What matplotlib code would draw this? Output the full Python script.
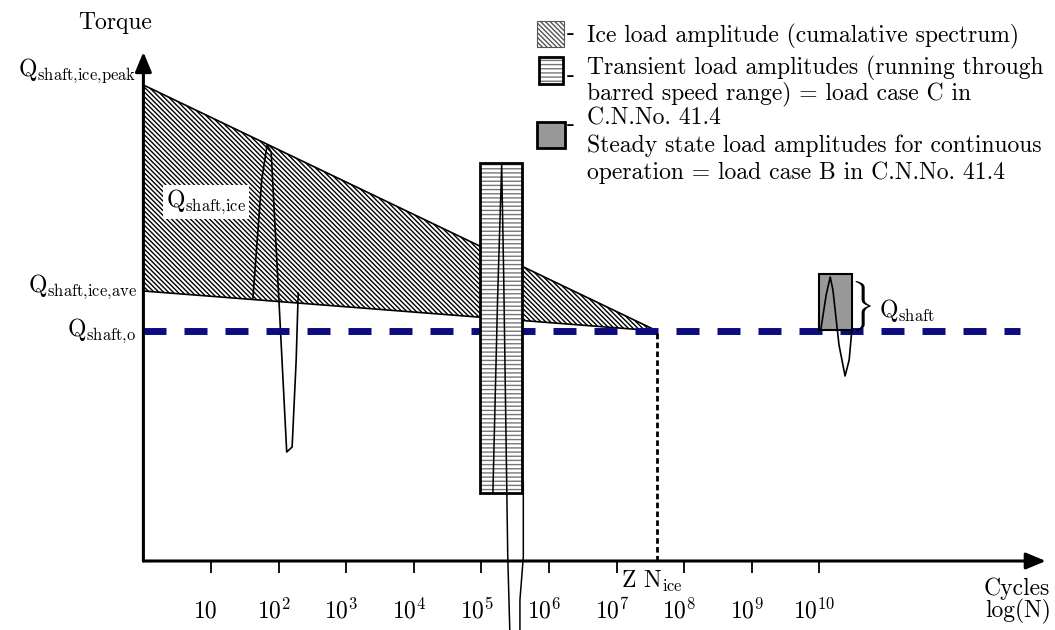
import numpy as np
import matplotlib.pyplot as plt
from matplotlib.patches import Rectangle, Polygon

plt.rcParams['font.family'] = ['cmr10', 'DejaVu Serif']
plt.rcParams['mathtext.fontset'] = 'cm'
plt.rcParams['axes.unicode_minus'] = False
plt.rcParams['hatch.linewidth'] = 1.0

# x = log10(N) load cycles, y = shaft torque (arbitrary units)
decades = np.arange(1, 11)
tick_labels = ['10'] + ['10$^{%d}$' % k for k in decades[1:]]

q_shaft_o = 2.30
q_ice_ave = 2.70
q_ice_peak = 4.76
log_n_ice = 7.60
x_axis_end = 13.35
y_axis_end = 5.09

ice_wave_x = [1.62, 1.75, 1.83, 1.89, 2.02, 2.12, 2.20, 2.26, 2.29]
ice_wave_y = [2.63, 3.81, 4.16, 4.09, 2.41, 1.09, 1.14, 2.01, 2.68]

transient_x = [4.98, 5.60]
transient_y = [0.68, 3.98]
transient_wave_x = [5.17, 5.24, 5.30, 5.33, 5.39, 5.42]
transient_wave_y = [0.68, 2.64, 3.96, 2.84, 0.04, -0.69]
transient_tail_x = [5.62, 5.62, 5.57, 5.57]
transient_tail_y = [0.79, 0.04, -0.39, -0.69]

steady_x = [9.99, 10.48]
steady_y = [2.31, 2.87]
steady_wave_x = [10.02, 10.10, 10.16, 10.20, 10.29, 10.38, 10.44, 10.48]
steady_wave_y = [2.31, 2.66, 2.84, 2.71, 2.16, 1.85, 2.01, 2.31]

legend_lines = [
    'Ice load amplitude (cumalative spectrum)',
    'Transient load amplitudes (running through',
    'barred speed range) = load case C in',
    'C.N.No. 41.4',
    'Steady state load amplitudes for continuous',
    'operation = load case B in C.N.No. 41.4',
]

# pixel helper for annotations: data origin and scale of the sketch
X0, SX = 143.4, 67.6
Y0, SY = 561, 100


def px(x, y):
    return (x - X0) / SX, (Y0 - y) / SY


fig = plt.figure(figsize=(10.55, 6.3), dpi=100)
ax = fig.add_axes([0, 0, 1, 1])
ax.set_xlim(-X0 / SX, (1055 - X0) / SX)
ax.set_ylim((Y0 - 630) / SY, Y0 / SY)
ax.axis('off')

fs = 17

# ice load spectrum
ax.add_patch(Polygon([[0, q_ice_peak], [log_n_ice, q_shaft_o], [0, q_ice_ave]],
                     closed=True, facecolor='white', edgecolor='black',
                     hatch='\\' * 7, lw=1.2, zorder=1))
ax.plot(ice_wave_x, ice_wave_y, color='black', lw=1.2, zorder=2)

# nominal torque line
ax.plot([0, 12.97], [q_shaft_o, q_shaft_o], color='#0c0c80', lw=5,
        dashes=(23 * 0.72 / 5, 18 * 0.72 / 5), zorder=3)
ax.plot([log_n_ice, log_n_ice], [0, q_shaft_o], color='black', lw=2.0,
        dashes=(2.0, 1.2), zorder=3)

# transient load box
w = transient_x[1] - transient_x[0]
h = transient_y[1] - transient_y[0]
ax.add_patch(Rectangle((transient_x[0], transient_y[0]), w, h,
                       facecolor='white', edgecolor='none', zorder=4))
ax.add_patch(Rectangle((transient_x[0], transient_y[0]), w, h,
                       facecolor='none', edgecolor='#777777', lw=0,
                       hatch='----', zorder=5))
ax.add_patch(Rectangle((transient_x[0], transient_y[0]), w, h,
                       fill=False, edgecolor='black', lw=2, zorder=6))
ax.plot(transient_wave_x, transient_wave_y, color='black', lw=1.1, zorder=7)
ax.plot(transient_tail_x, transient_tail_y, color='black', lw=1.1, zorder=7)

# steady state box
ax.add_patch(Rectangle((steady_x[0], steady_y[0]), steady_x[1] - steady_x[0],
                       steady_y[1] - steady_y[0], facecolor='#999999',
                       edgecolor='black', lw=1.5, zorder=4))
ax.plot(steady_wave_x, steady_wave_y, color='black', lw=1.2, zorder=7)

# axes with arrows
arrow = dict(arrowstyle='-|>,head_length=0.6,head_width=0.25', lw=2.2,
             color='black', shrinkA=0, shrinkB=0, mutation_scale=20)
ax.annotate('', xy=(x_axis_end, 0), xytext=(0, 0), arrowprops=arrow, zorder=8)
ax.annotate('', xy=(0, y_axis_end), xytext=(0, 0), arrowprops=arrow, zorder=8)
ax.vlines(decades, -0.12, 0, color='black', lw=1.3, zorder=8)
for d, lab in zip(decades, tick_labels):
    ax.text(d - 0.07, -0.57, lab, ha='center', va='baseline', fontsize=fs)

# labels
ax.text(*px(115, 29), 'Torque', ha='center', va='baseline', fontsize=fs)
ax.text(-0.1, 4.85, r'Q$_{\mathrm{shaft{,}ice{,}peak}}$', ha='right',
        va='baseline', fontsize=fs)
ax.text(-0.1, 2.69, r'Q$_{\mathrm{shaft{,}ice{,}ave}}$', ha='right',
        va='baseline', fontsize=fs)
ax.text(-0.1, 2.25, r'Q$_{\mathrm{shaft{,}o}}$', ha='right', va='baseline',
        fontsize=fs)
ax.text(*px(206, 207), r'Q$_{\mathrm{shaft{,}ice}}$', ha='center',
        va='baseline', fontsize=fs, zorder=9,
        bbox=dict(facecolor='white', edgecolor='none', pad=2))
ax.text(*px(652, 588), r'Z N$_{\mathrm{ice}}$', ha='center', va='baseline',
        fontsize=fs)
ax.text(*px(1017, 595), 'Cycles', ha='center', va='baseline', fontsize=fs)
ax.text(*px(1018, 617), 'log(N)', ha='center', va='baseline', fontsize=fs)
ax.text(*px(861, 306), r'$\}$', ha='center', va='center', fontsize=30)
ax.text(*px(879, 317), r'Q$_{\mathrm{shaft}}$', ha='left', va='baseline',
        fontsize=fs)

# legend drawn by hand
ax.add_patch(Rectangle(px(537, 47), 27 / SX, 26 / SY, facecolor='white',
                       edgecolor='#555555', hatch='\\' * 7, lw=0.8))
ax.add_patch(Rectangle(px(539, 84), 24 / SX, 27 / SY, facecolor='white',
                       edgecolor='#777777', lw=0, hatch='----'))
ax.add_patch(Rectangle(px(539, 84), 24 / SX, 27 / SY, fill=False,
                       edgecolor='black', lw=2))
ax.add_patch(Rectangle(px(537, 148), 28 / SX, 26 / SY, facecolor='#999999',
                       edgecolor='black', lw=2))
for ypx in (34, 76, 125):
    ax.text(*px(571, ypx), '-', ha='center', va='center', fontsize=fs)
for ypx, line in zip((42, 74, 99, 125, 152, 179), legend_lines):
    ax.text(*px(587, ypx), line, ha='left', va='baseline', fontsize=fs)

fig.savefig('out.png', dpi=100)
